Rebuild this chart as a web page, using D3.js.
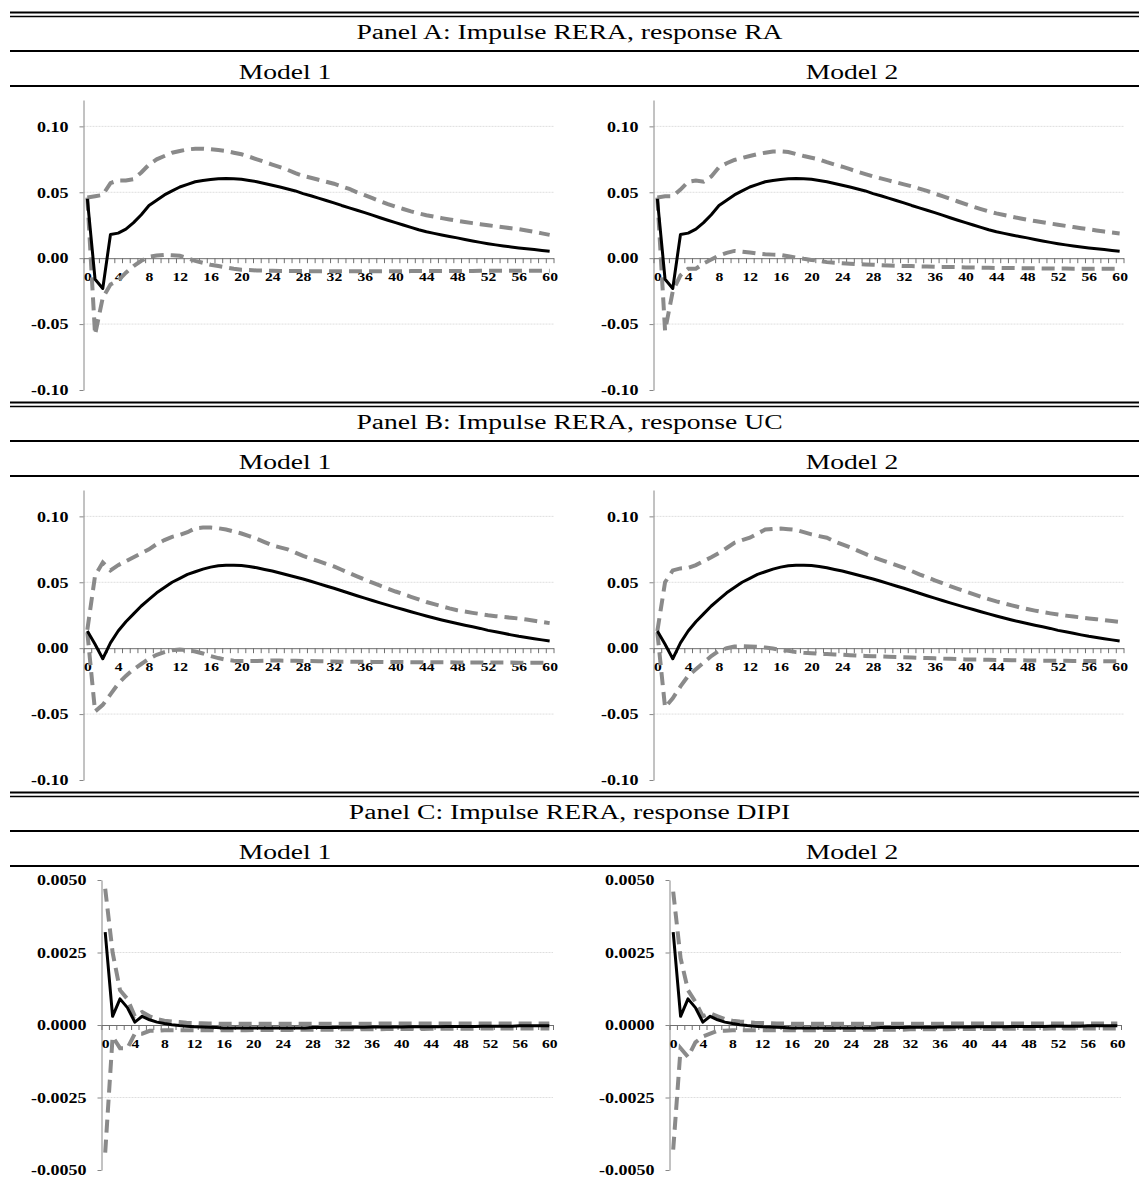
<!DOCTYPE html>
<html>
<head>
<meta charset="utf-8">
<script src="https://cdn.jsdelivr.net/npm/d3@7"></script>
<style>
body { margin: 0; background: #fff; }
svg { display: block; }
</style>
</head>
<body>
<div id="chart"></div>
<script>
// ---- data ----
const panelTitles = ['Panel A: Impulse RERA, response RA', 'Panel B: Impulse RERA, response UC', 'Panel C: Impulse RERA, response DIPI'];
const modelNames = ['Model 1', 'Model 2'];
const periods = d3.range(0, 61);
const xTickLabels = [0, 4, 8, 12, 16, 20, 24, 28, 32, 36, 40, 44, 48, 52, 56, 60];
const yTicksAB = [-0.10, -0.05, 0.00, 0.05, 0.10];
const yTicksC = [-0.005, -0.0025, 0.0, 0.0025, 0.005];

// Panel A: response RA
const raIrf1 = [0.045, -0.016, -0.023, 0.018, 0.019, 0.022, 0.027, 0.033, 0.040, 0.044,
  0.048, 0.051, 0.054, 0.056, 0.058, 0.059, 0.0597, 0.0603, 0.0605, 0.0603,
  0.0598, 0.059, 0.058, 0.0567, 0.0553, 0.054, 0.0525, 0.051, 0.049, 0.0474,
  0.0456, 0.0438, 0.042, 0.040, 0.0382, 0.0364, 0.0346, 0.0327, 0.0307, 0.0288,
  0.027, 0.0252, 0.0234, 0.0216, 0.020, 0.0188, 0.0176, 0.0165, 0.0154, 0.0142,
  0.0131, 0.012, 0.011, 0.0101, 0.0093, 0.0085, 0.0078, 0.0071, 0.0065, 0.0059,
  0.0053];
const raUp1 = [0.046, 0.047, 0.048, 0.057, 0.059, 0.059, 0.060, 0.065, 0.071, 0.075,
  0.0775, 0.080, 0.0813, 0.0825, 0.083, 0.083, 0.0826, 0.082, 0.0813, 0.080,
  0.0788, 0.077, 0.075, 0.073, 0.071, 0.069, 0.067, 0.0645, 0.0624, 0.061,
  0.0595, 0.058, 0.0565, 0.0545, 0.0525, 0.050, 0.0478, 0.0455, 0.0433, 0.041,
  0.0391, 0.0373, 0.0355, 0.034, 0.0326, 0.0315, 0.0304, 0.0294, 0.0284, 0.0275,
  0.0266, 0.0258, 0.025, 0.0242, 0.0234, 0.0227, 0.022, 0.021, 0.020, 0.0188,
  0.0177];
const raLow1 = [0.046, -0.058, -0.030, -0.020, -0.017, -0.011, -0.006, -0.002, 0.001, 0.002,
  0.0025, 0.0022, 0.0018, 0.0, -0.002, -0.0035, -0.005, -0.006, -0.007, -0.008,
  -0.0088, -0.009, -0.0093, -0.0095, -0.0096, -0.0097, -0.0097, -0.0098, -0.0098, -0.0099,
  -0.0099, -0.0099, -0.0100, -0.0100, -0.0100, -0.0100, -0.0100, -0.0100, -0.0099, -0.0099,
  -0.0099, -0.0099, -0.0098, -0.0098, -0.0098, -0.0098, -0.0097, -0.0097, -0.0097, -0.0097,
  -0.0097, -0.0096, -0.0096, -0.0096, -0.0096, -0.0096, -0.0095, -0.0095, -0.0095, -0.0095,
  -0.0095];
const raIrf2 = [0.045, -0.016, -0.023, 0.018, 0.019, 0.022, 0.027, 0.033, 0.040, 0.044,
  0.048, 0.051, 0.054, 0.056, 0.058, 0.059, 0.0597, 0.0603, 0.0605, 0.0603,
  0.0598, 0.059, 0.058, 0.0567, 0.0553, 0.054, 0.0525, 0.051, 0.049, 0.0474,
  0.0456, 0.0438, 0.042, 0.040, 0.0382, 0.0364, 0.0346, 0.0327, 0.0307, 0.0288,
  0.027, 0.0252, 0.0234, 0.0216, 0.020, 0.0188, 0.0176, 0.0165, 0.0154, 0.0142,
  0.0131, 0.012, 0.011, 0.0101, 0.0093, 0.0085, 0.0078, 0.0071, 0.0065, 0.0059,
  0.0053];
const raUp2 = [0.046, 0.047, 0.047, 0.052, 0.058, 0.059, 0.058, 0.062, 0.069, 0.072,
  0.0745, 0.076, 0.0775, 0.079, 0.080, 0.081, 0.081, 0.0805, 0.079, 0.0775,
  0.0762, 0.075, 0.0728, 0.071, 0.0694, 0.0675, 0.0655, 0.0638, 0.062, 0.0605,
  0.059, 0.0575, 0.056, 0.0545, 0.0528, 0.051, 0.049, 0.047, 0.045, 0.043,
  0.041, 0.039, 0.0372, 0.0355, 0.034, 0.0327, 0.0315, 0.0303, 0.0292, 0.0282,
  0.0272, 0.0263, 0.0254, 0.0245, 0.0236, 0.0227, 0.0219, 0.021, 0.0202, 0.0195,
  0.0188];
const raLow2 = [0.046, -0.055, -0.025, -0.013, -0.008, -0.008, -0.004, -0.001, 0.002, 0.004,
  0.0055, 0.005, 0.0043, 0.0035, 0.003, 0.0027, 0.0025, 0.0015, 0.0005, -0.0005,
  -0.0013, -0.002, -0.003, -0.0034, -0.0038, -0.0042, -0.0045, -0.0048, -0.005, -0.0053,
  -0.0055, -0.0057, -0.0059, -0.006, -0.0062, -0.0063, -0.0065, -0.0066, -0.0067, -0.0068,
  -0.007, -0.0071, -0.0072, -0.0073, -0.0074, -0.0075, -0.0075, -0.0076, -0.0077, -0.0077,
  -0.0078, -0.0078, -0.0079, -0.0079, -0.008, -0.008, -0.008, -0.008, -0.008, -0.008,
  -0.008];

// Panel B: response UC
const ucIrf1 = [0.013, 0.003, -0.008, 0.004, 0.013, 0.020, 0.026, 0.032, 0.037, 0.042,
  0.046, 0.050, 0.053, 0.056, 0.058, 0.060, 0.0615, 0.0625, 0.063, 0.063,
  0.0627, 0.062, 0.061, 0.0597, 0.0585, 0.057, 0.0555, 0.054, 0.0525, 0.0508,
  0.049, 0.0472, 0.0455, 0.0436, 0.0417, 0.0398, 0.038, 0.0362, 0.0344, 0.0327,
  0.031, 0.0293, 0.0276, 0.026, 0.0244, 0.0229, 0.0214, 0.020, 0.0187, 0.0174,
  0.0162, 0.015, 0.0135, 0.0124, 0.0113, 0.0101, 0.009, 0.0081, 0.0072, 0.0063,
  0.0055];
const ucUp1 = [0.014, 0.055, 0.065, 0.059, 0.063, 0.066, 0.069, 0.072, 0.075, 0.079,
  0.082, 0.0845, 0.086, 0.088, 0.091, 0.0915, 0.0915, 0.091, 0.090, 0.0885,
  0.087, 0.085, 0.083, 0.0805, 0.078, 0.0765, 0.075, 0.0725, 0.070, 0.068,
  0.066, 0.064, 0.062, 0.0595, 0.057, 0.0545, 0.052, 0.0497, 0.0474, 0.0452,
  0.043, 0.041, 0.039, 0.037, 0.035, 0.0334, 0.0318, 0.0302, 0.0288, 0.0278,
  0.0268, 0.0259, 0.025, 0.0243, 0.0237, 0.0231, 0.0225, 0.0217, 0.0208, 0.0199,
  0.019];
const ucLow1 = [0.012, -0.048, -0.043, -0.035, -0.027, -0.021, -0.016, -0.012, -0.008, -0.005,
  -0.003, -0.0015, -0.001, -0.0015, -0.0025, -0.004, -0.006, -0.0075, -0.0088, -0.0095,
  -0.0098, -0.0098, -0.0097, -0.0095, -0.0093, -0.0094, -0.0095, -0.0096, -0.0097, -0.0098,
  -0.0099, -0.010, -0.0101, -0.0102, -0.0102, -0.0103, -0.0103, -0.0104, -0.0104, -0.0105,
  -0.0105, -0.0105, -0.0106, -0.0106, -0.0106, -0.0107, -0.0107, -0.0107, -0.0108, -0.0108,
  -0.0108, -0.0108, -0.0109, -0.0109, -0.0109, -0.0109, -0.011, -0.011, -0.011, -0.011,
  -0.011];
const ucIrf2 = [0.013, 0.003, -0.008, 0.004, 0.013, 0.020, 0.026, 0.032, 0.037, 0.042,
  0.046, 0.050, 0.053, 0.056, 0.058, 0.060, 0.0615, 0.0625, 0.063, 0.063,
  0.0627, 0.062, 0.061, 0.0597, 0.0585, 0.057, 0.0555, 0.054, 0.0525, 0.0508,
  0.049, 0.0472, 0.0455, 0.0436, 0.0417, 0.0398, 0.038, 0.0362, 0.0344, 0.0327,
  0.031, 0.0293, 0.0276, 0.026, 0.0244, 0.0229, 0.0214, 0.020, 0.0187, 0.0174,
  0.0162, 0.015, 0.0135, 0.0124, 0.0113, 0.0101, 0.009, 0.0081, 0.0072, 0.0063,
  0.0055];
const ucUp2 = [0.013, 0.050, 0.059, 0.0605, 0.061, 0.063, 0.066, 0.069, 0.0723, 0.076,
  0.080, 0.082, 0.0838, 0.087, 0.090, 0.0905, 0.0907, 0.0903, 0.0897, 0.088,
  0.0863, 0.085, 0.0838, 0.081, 0.0787, 0.0765, 0.074, 0.0715, 0.069, 0.067,
  0.065, 0.063, 0.061, 0.0585, 0.056, 0.0538, 0.0515, 0.0493, 0.047, 0.045,
  0.043, 0.041, 0.039, 0.0372, 0.0355, 0.034, 0.0325, 0.031, 0.0297, 0.0285,
  0.0274, 0.0264, 0.0255, 0.0247, 0.024, 0.0233, 0.0226, 0.022, 0.0213, 0.0206,
  0.020];
const ucLow2 = [0.012, -0.045, -0.038, -0.029, -0.021, -0.016, -0.011, -0.006, -0.002, 0.0,
  0.0013, 0.0015, 0.0013, 0.001, 0.0005, -0.0003, -0.0013, -0.002, -0.003, -0.0035,
  -0.0038, -0.0042, -0.0045, -0.0048, -0.005, -0.0053, -0.0056, -0.0059, -0.0061, -0.0063,
  -0.0065, -0.0067, -0.0069, -0.0071, -0.0073, -0.0075, -0.0077, -0.0079, -0.0081, -0.0083,
  -0.0085, -0.0086, -0.0087, -0.0088, -0.0089, -0.009, -0.0091, -0.0092, -0.0093, -0.0094,
  -0.0095, -0.0095, -0.0096, -0.0096, -0.0097, -0.0097, -0.0098, -0.0098, -0.0099, -0.0099,
  -0.010];

// Panel C: response DIPI
const dipiIrf1 = [0.0032, 0.0003, 0.0009, 0.0006, 0.0001, 0.0003, 0.00018, 0.0001, 0.00005, 0.00001,
  -0.00002, -0.00004, -0.00006, -0.00007, -0.00008, -0.00009, -0.0001, -0.0001, -0.0001, -0.0001,
  -0.0001, -0.0001, -0.0001, -0.0001, -0.0001, -0.0001, -0.0001, -0.0001, -0.00009, -0.00009,
  -0.00009, -0.00009, -0.00008, -0.00008, -0.00008, -0.00008, -0.00007, -0.00007, -0.00007, -0.00007,
  -0.00007, -0.00006, -0.00006, -0.00006, -0.00006, -0.00006, -0.00005, -0.00005, -0.00005, -0.00005,
  -0.00005, -0.00004, -0.00004, -0.00004, -0.00004, -0.00004, -0.00003, -0.00003, -0.00003, -0.00003,
  -0.00003];
const dipiUp1 = [0.0047, 0.0025, 0.0012, 0.0009, 0.0003, 0.00045, 0.0003, 0.0002, 0.00015, 0.00012,
  0.0001, 0.00008, 0.00007, 0.00006, 0.00005, 0.00005, 0.00004, 0.00004, 0.00004, 0.00004,
  0.00004, 0.00004, 0.00004, 0.00004, 0.00004, 0.00004, 0.00004, 0.00004, 0.00004, 0.00004,
  0.00004, 0.00004, 0.00004, 0.00004, 0.00004, 0.00004, 0.00004, 0.00005, 0.00005, 0.00005,
  0.00005, 0.00005, 0.00005, 0.00005, 0.00005, 0.00005, 0.00005, 0.00005, 0.00005, 0.00005,
  0.00005, 0.00005, 0.00005, 0.00005, 0.00005, 0.00005, 0.00005, 0.00005, 0.00005, 0.00005,
  0.00005];
const dipiLow1 = [-0.0044, -0.0004, -0.0008, -0.0008, -0.0003, -0.0003, -0.0002, -0.0002, -0.00018, -0.00018,
  -0.00018, -0.00018, -0.00018, -0.00018, -0.00018, -0.00018, -0.00018, -0.00018, -0.00018, -0.00018,
  -0.00017, -0.00017, -0.00017, -0.00017, -0.00017, -0.00017, -0.00016, -0.00016, -0.00016, -0.00016,
  -0.00016, -0.00016, -0.00015, -0.00015, -0.00015, -0.00015, -0.00015, -0.00015, -0.00014, -0.00014,
  -0.00014, -0.00014, -0.00014, -0.00014, -0.00013, -0.00013, -0.00013, -0.00013, -0.00013, -0.00013,
  -0.00013, -0.00012, -0.00012, -0.00012, -0.00012, -0.00012, -0.00012, -0.00012, -0.00012, -0.00012,
  -0.00012];
const dipiIrf2 = [0.0032, 0.0003, 0.0009, 0.0006, 0.0001, 0.0003, 0.00018, 0.0001, 0.00005, 0.00001,
  -0.00002, -0.00004, -0.00006, -0.00007, -0.00008, -0.00009, -0.0001, -0.0001, -0.0001, -0.0001,
  -0.0001, -0.0001, -0.0001, -0.0001, -0.0001, -0.0001, -0.0001, -0.0001, -0.00009, -0.00009,
  -0.00009, -0.00009, -0.00008, -0.00008, -0.00008, -0.00008, -0.00007, -0.00007, -0.00007, -0.00007,
  -0.00007, -0.00006, -0.00006, -0.00006, -0.00006, -0.00006, -0.00005, -0.00005, -0.00005, -0.00005,
  -0.00005, -0.00004, -0.00004, -0.00004, -0.00004, -0.00004, -0.00003, -0.00003, -0.00003, -0.00003,
  -0.00003];
const dipiUp2 = [0.0046, 0.0023, 0.0012, 0.0008, 0.0003, 0.0004, 0.0003, 0.0002, 0.00015, 0.00012,
  0.0001, 0.00008, 0.00007, 0.00006, 0.00005, 0.00005, 0.00004, 0.00004, 0.00004, 0.00004,
  0.00004, 0.00004, 0.00004, 0.00004, 0.00004, 0.00004, 0.00004, 0.00004, 0.00004, 0.00004,
  0.00004, 0.00004, 0.00004, 0.00004, 0.00004, 0.00004, 0.00004, 0.00005, 0.00005, 0.00005,
  0.00005, 0.00005, 0.00005, 0.00005, 0.00005, 0.00005, 0.00005, 0.00005, 0.00005, 0.00005,
  0.00005, 0.00005, 0.00005, 0.00005, 0.00005, 0.00005, 0.00005, 0.00005, 0.00005, 0.00005,
  0.00005];
const dipiLow2 = [-0.0043, -0.0008, -0.0011, -0.0006, -0.0004, -0.0003, -0.0002, -0.0002, -0.00018, -0.00018,
  -0.00018, -0.00018, -0.00018, -0.00018, -0.00018, -0.00018, -0.00018, -0.00018, -0.00018, -0.00018,
  -0.00017, -0.00017, -0.00017, -0.00017, -0.00017, -0.00017, -0.00016, -0.00016, -0.00016, -0.00016,
  -0.00016, -0.00016, -0.00015, -0.00015, -0.00015, -0.00015, -0.00015, -0.00015, -0.00014, -0.00014,
  -0.00014, -0.00014, -0.00014, -0.00014, -0.00013, -0.00013, -0.00013, -0.00013, -0.00013, -0.00013,
  -0.00013, -0.00012, -0.00012, -0.00012, -0.00012, -0.00012, -0.00012, -0.00012, -0.00012, -0.00012,
  -0.00012];

// ---- layout ----
const W = 1139, H = 1179;
const sectionH = 390;
const textStretch = 1.38;   // the picture is stretched sideways
const labelStretch = 1.2;

const panels = [
  { title: panelTitles[0], ticks: yTicksAB, domain: [-0.10, 0.12], fmt: '.2f', left: 83.5, right: 553.5, shift: 570,
    series: [[raIrf1, raLow1, raUp1], [raIrf2, raLow2, raUp2]] },
  { title: panelTitles[1], ticks: yTicksAB, domain: [-0.10, 0.12], fmt: '.2f', left: 83.5, right: 553.5, shift: 570,
    series: [[ucIrf1, ucLow1, ucUp1], [ucIrf2, ucLow2, ucUp2]] },
  { title: panelTitles[2], ticks: yTicksC, domain: [-0.005, 0.005], fmt: '.4f', left: 101.5, right: 553, shift: 568,
    series: [[dipiIrf1, dipiLow1, dipiUp1], [dipiIrf2, dipiLow2, dipiUp2]] },
];

const locale = d3.formatLocale({ decimal: '.', thousands: ',', grouping: [3], currency: ['', ''], minus: '-' });

const svg = d3.select('#chart').append('svg')
  .attr('width', W)
  .attr('height', H)
  .style('font-family', '"Liberation Serif", "Times New Roman", serif');

function rule(y, w) {
  svg.append('line')
    .attr('x1', 10).attr('x2', W)
    .attr('y1', y).attr('y2', y)
    .attr('stroke', '#000')
    .attr('stroke-width', w);
}

function headerText(x, y, txt) {
  svg.append('text')
    .attr('transform', `translate(${x},${y}) scale(${textStretch},1)`)
    .attr('text-anchor', 'middle')
    .style('font-size', '20px')
    .text(txt);
}

function drawChart(panel, series, top, offset) {
  const g = svg.append('g');
  const x0 = panel.left + offset, x1 = panel.right + offset;
  const yBottom = top + 390, yTop = top + 100;

  const x = d3.scaleBand().domain(periods).range([x0, x1]);
  const xc = p => x(p) + x.bandwidth() / 2;
  const xEdge = d3.scaleLinear().domain([-0.5, 60.5]).range([x0, x1]);
  const y = d3.scaleLinear().domain(panel.domain).range([yBottom, yTop]);

  // light gridlines
  g.selectAll('.grid')
    .data(panel.ticks.filter(t => t !== 0 && t > panel.domain[0] && t < panel.domain[1]))
    .join('line')
    .attr('x1', x0).attr('x2', x1)
    .attr('y1', d => y(d)).attr('y2', d => y(d))
    .attr('stroke', '#dedede')
    .attr('stroke-width', 1)
    .attr('stroke-dasharray', '2,1');

  // y axis
  const yAxis = g.append('g')
    .attr('transform', `translate(${x0},0)`)
    .call(d3.axisLeft(y).tickValues(panel.ticks).tickSize(4).tickSizeOuter(0).tickPadding(8.5)
      .tickFormat(locale.format(panel.fmt)));
  yAxis.select('.domain').attr('stroke', '#868686');
  yAxis.selectAll('.tick line').attr('stroke', '#868686');
  yAxis.selectAll('text')
    .attr('transform', `scale(${labelStretch},1)`)
    .style('font-size', '15px')
    .style('font-weight', 'bold')
    .style('font-family', '"Liberation Serif", serif')
    .attr('fill', '#000');

  // x axis on the zero line
  const xAxis = g.append('g')
    .attr('transform', `translate(0,${y(0)})`)
    .call(d3.axisBottom(xEdge).tickValues(d3.range(-0.5, 61, 1)).tickSize(5).tickSizeOuter(0).tickFormat(''));
  xAxis.select('.domain').attr('stroke', '#6f6f6f');
  xAxis.selectAll('.tick line').attr('stroke', '#6f6f6f');

  const xLab = g.append('g')
    .attr('transform', `translate(0,${y(0)})`)
    .call(d3.axisBottom(d3.scaleLinear().domain([0, 60]).range([xc(0), xc(60)]))
      .tickValues(xTickLabels).tickSize(0).tickPadding(14).tickFormat(d3.format('d')));
  xLab.select('.domain').remove();
  xLab.selectAll('text')
    .attr('transform', `scale(${labelStretch},1)`)
    .style('font-size', '13px')
    .style('font-weight', 'bold')
    .style('font-family', '"Liberation Serif", serif')
    .attr('fill', '#000');

  const line = d3.line()
    .x((d, i) => xc(periods[i]))
    .y(d => y(d));

  const [irf, low, up] = series;
  [low, up].forEach(band => {
    g.append('path').datum(band)
      .attr('d', line)
      .attr('fill', 'none')
      .attr('stroke', '#8a8a8a')
      .attr('stroke-width', 4)
      .attr('stroke-dasharray', '13,7');
  });

  // solid response on top of the bands
  g.append('path').datum(irf)
    .attr('d', line)
    .attr('fill', 'none')
    .attr('stroke', '#000')
    .attr('stroke-width', 3)
    .attr('stroke-linejoin', 'round');
}

panels.forEach((panel, k) => {
  const top = k * sectionH;
  rule(top + 12.5, 2);
  rule(top + 16.5, 1.5);
  headerText(569.5, top + 39, panel.title);
  rule(top + 51, 2);
  headerText(285, top + 79, modelNames[0]);
  headerText(852, top + 79, modelNames[1]);
  rule(top + 86, 2);
  panel.series.forEach((s, m) => drawChart(panel, s, top, m * panel.shift));
});
</script>
</body>
</html>
